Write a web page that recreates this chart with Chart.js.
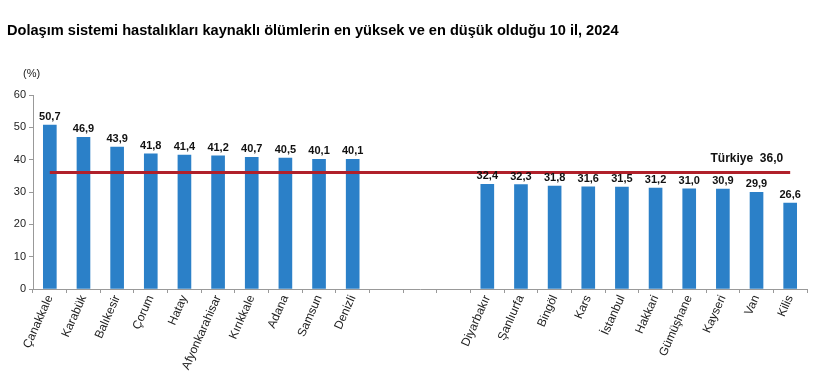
<!DOCTYPE html>
<html>
<head>
<meta charset="utf-8">
<script src="https://cdn.jsdelivr.net/npm/chart.js@4"></script>
<style>
  html, body { margin: 0; padding: 0; background: #fff; }
  #wrap { width: 820px; height: 386px; position: relative; }
</style>
</head>
<body>
<div id="wrap"><canvas id="myChart" width="820" height="386"></canvas></div>
<script>
// İller (ortada 3 boş kategori boşluk için)
const categories = ['Çanakkale', 'Karabük', 'Balıkesir', 'Çorum', 'Hatay', 'Afyonkarahisar', 'Kırıkkale', 'Adana', 'Samsun', 'Denizli',
    '', '', '',
    'Diyarbakır', 'Şanlıurfa', 'Bingöl', 'Kars', 'İstanbul', 'Hakkari', 'Gümüşhane', 'Kayseri', 'Van', 'Kilis'];
const values = [50.7, 46.9, 43.9, 41.8, 41.4, 41.2, 40.7, 40.5, 40.1, 40.1,
    null, null, null,
    32.4, 32.3, 31.8, 31.6, 31.5, 31.2, 31.0, 30.9, 29.9, 26.6];
const turkiye = 36.0;
const turkiyeLine = categories.map(() => turkiye);
const yTicks = [0, 10, 20, 30, 40, 50, 60];

const fontFamily = '"Liberation Sans", Arial, sans-serif';
const fmt = v => v.toFixed(1).replace('.', ',');

// Başlık, (%) ve değer etiketleri
const textPlugin = {
    id: 'texts',
    afterDatasetsDraw(chart) {
        const ctx = chart.ctx;
        ctx.save();
        ctx.fillStyle = '#000';
        ctx.font = 'bold 14.6px ' + fontFamily;
        ctx.textBaseline = 'alphabetic';
        ctx.textAlign = 'left';
        ctx.fillText('Dolaşım sistemi hastalıkları kaynaklı ölümlerin en yüksek ve en düşük olduğu 10 il, 2024', 7, 35);

        ctx.font = '11px ' + fontFamily;
        ctx.fillStyle = '#222';
        ctx.fillText('(%)', 23, 77);

        // bar değerleri
        const meta = chart.getDatasetMeta(0);
        ctx.font = 'bold 11px ' + fontFamily;
        ctx.fillStyle = '#111';
        ctx.textAlign = 'center';
        meta.data.forEach((bar, i) => {
            if (values[i] == null) return;
            ctx.fillText(fmt(values[i]), bar.x, bar.y - 5);
        });

        // Türkiye etiketi
        const lineMeta = chart.getDatasetMeta(1);
        const last = lineMeta.data[lineMeta.data.length - 1];
        ctx.font = 'bold 12px ' + fontFamily;
        ctx.textAlign = 'right';
        ctx.fillText('Türkiye  ' + fmt(turkiye), last.x - 7, last.y - 11);
        ctx.restore();
    }
};

const ctx = document.getElementById('myChart').getContext('2d');
new Chart(ctx, {
    type: 'bar',
    data: {
        labels: categories,
        datasets: [{
            label: 'İl',
            data: values,
            backgroundColor: '#2b80c8',
            barThickness: 13,
            order: 2
        }, {
            type: 'line',
            label: 'Türkiye',
            data: turkiyeLine,
            borderColor: '#b0202a',
            borderWidth: 3,
            pointRadius: 0,
            fill: false,
            order: 1
        }]
    },
    options: {
        responsive: false,
        animation: false,
        layout: { padding: { top: 95, left: 0, right: 13, bottom: 0 } },
        plugins: {
            legend: { display: false },
            tooltip: { enabled: false }
        },
        scales: {
            x: {
                offset: true,
                grid: { offset: true, drawOnChartArea: false, drawTicks: true, tickLength: 4, color: '#999' },
                border: { color: '#999' },
                ticks: {
                    autoSkip: false,
                    minRotation: 66,
                    maxRotation: 66,
                    padding: 0,
                    color: '#222',
                    font: { family: fontFamily, size: 12 }
                },
                afterFit(scale) { scale.height = 97; }
            },
            y: {
                min: 0,
                max: 60,
                afterBuildTicks(scale) { scale.ticks = yTicks.map(v => ({ value: v })); },
                grid: { drawOnChartArea: false, drawTicks: true, tickLength: 4, color: '#999' },
                border: { color: '#999' },
                ticks: {
                    padding: 3,
                    color: '#222',
                    font: { family: fontFamily, size: 11 }
                },
                afterFit(scale) { scale.width = 33; }
            }
        }
    },
    plugins: [textPlugin]
});
</script>
</body>
</html>
